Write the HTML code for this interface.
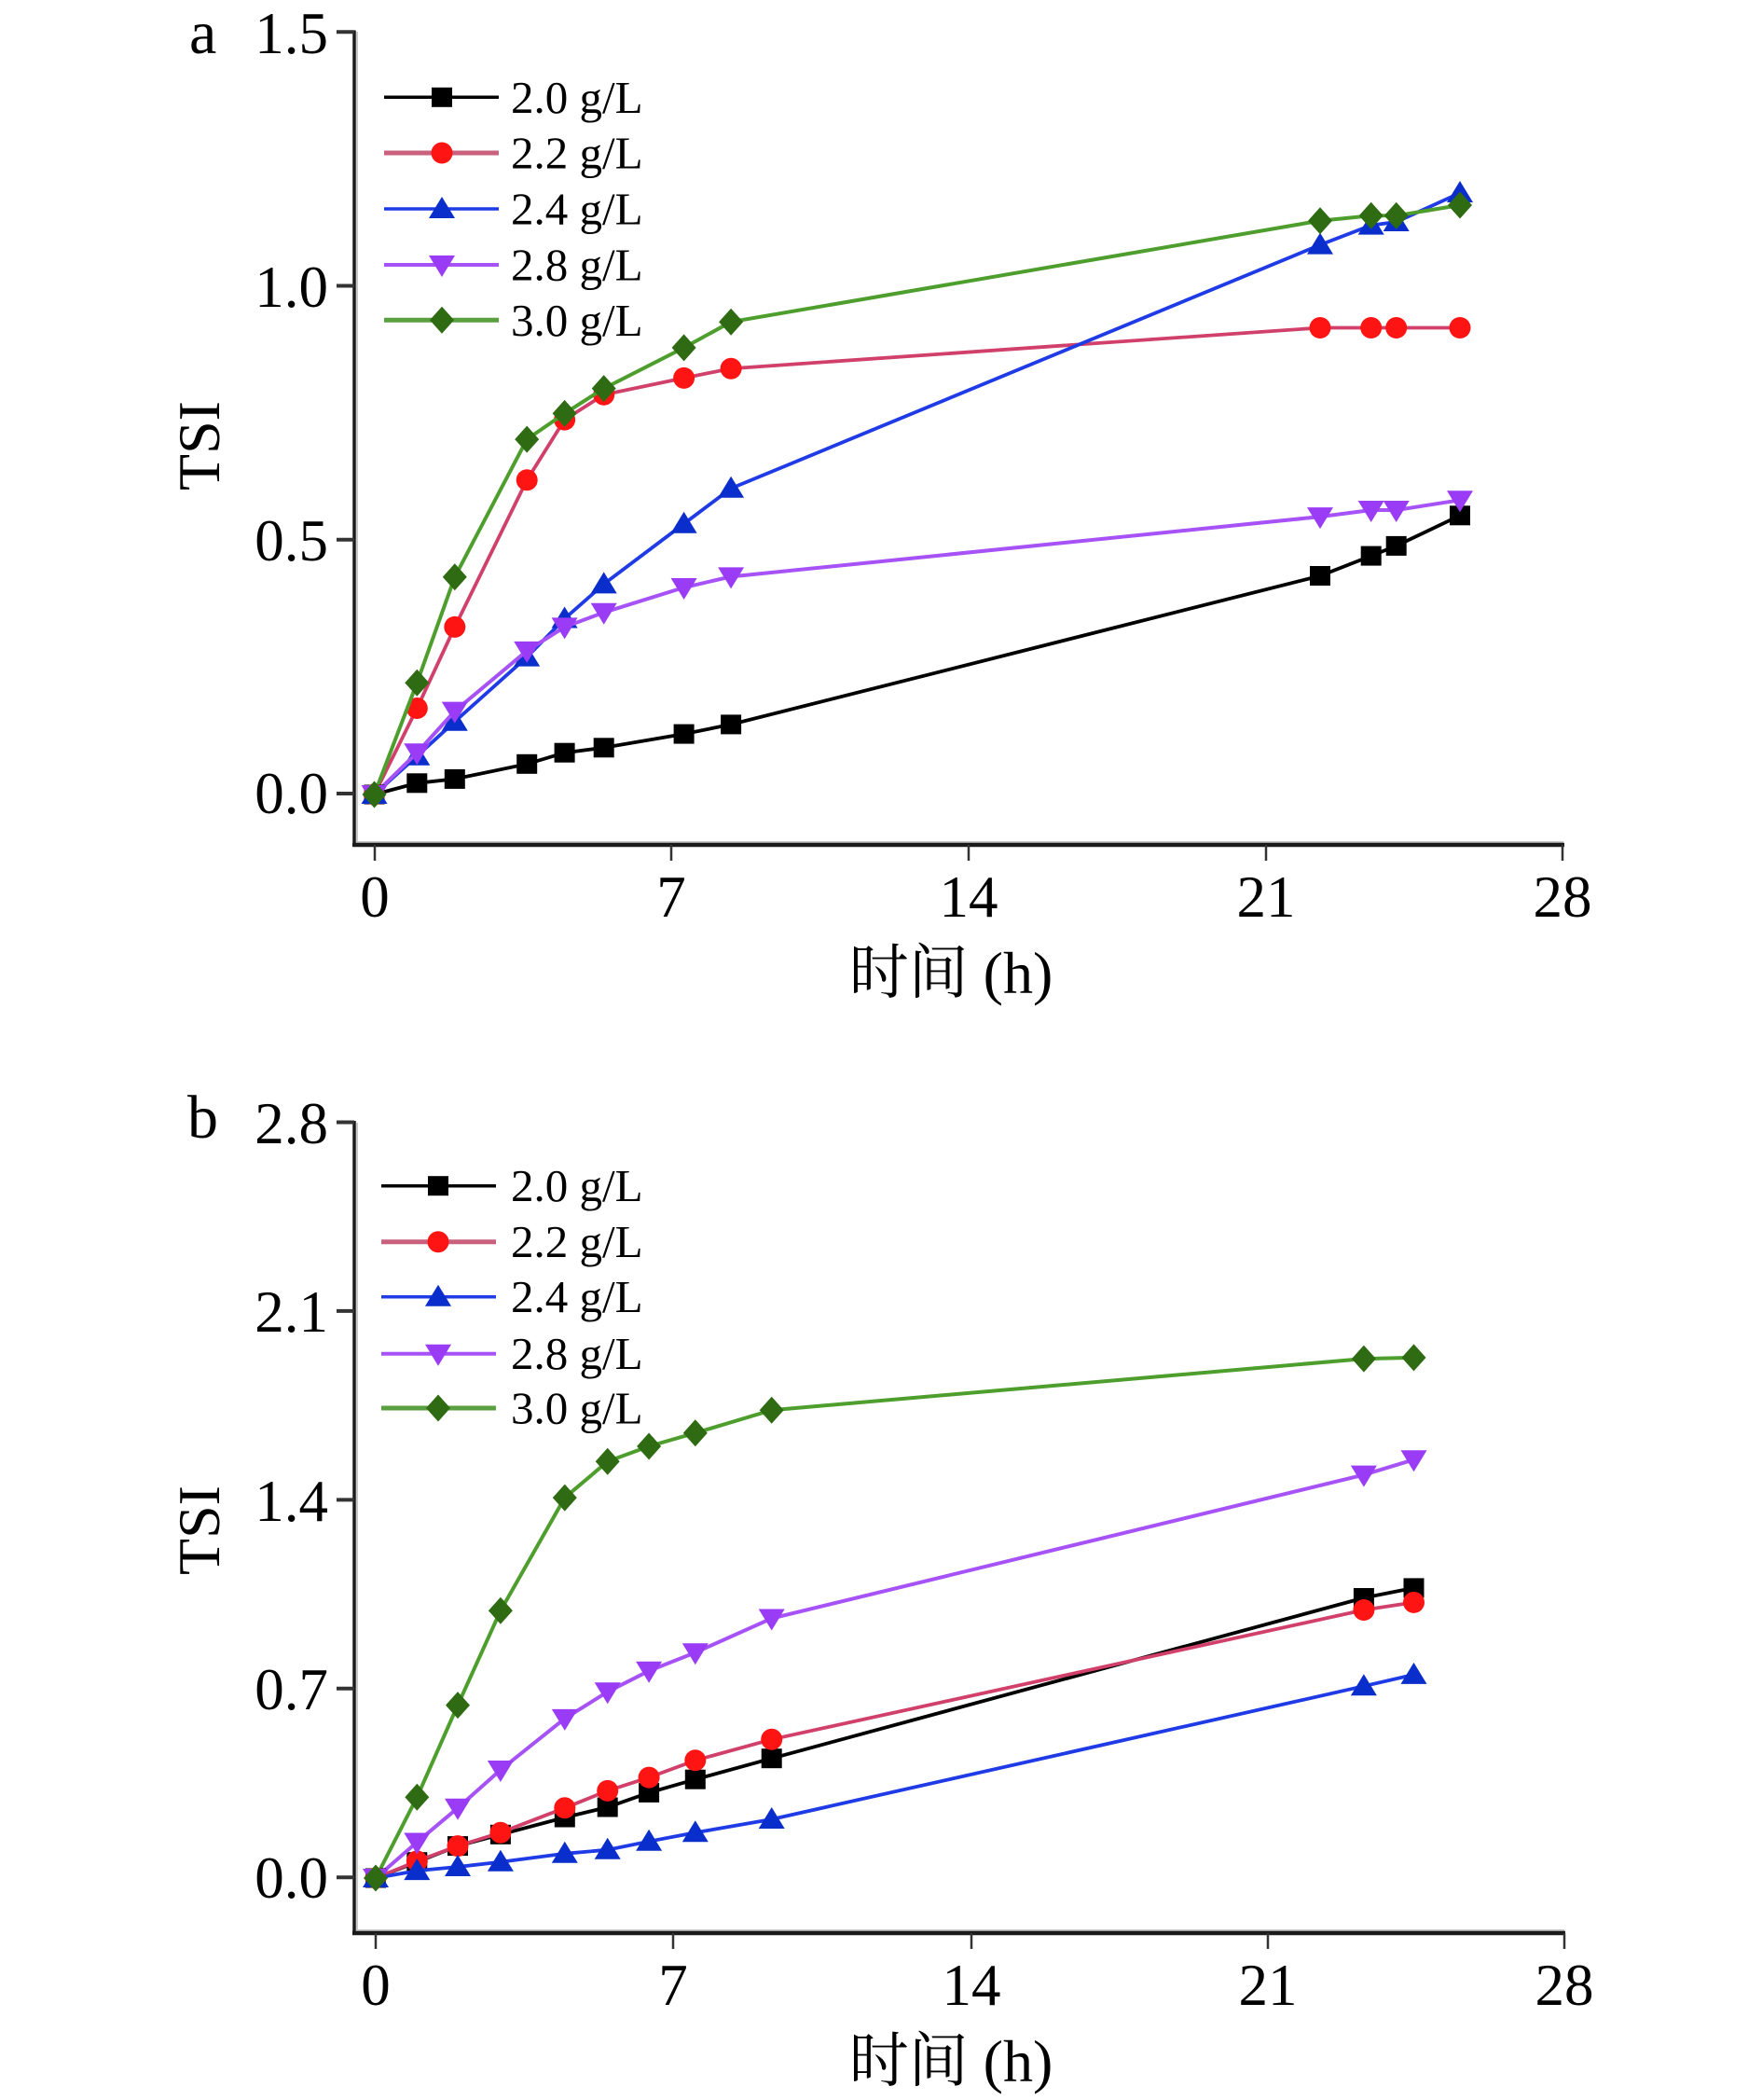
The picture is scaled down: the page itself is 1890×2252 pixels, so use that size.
<!DOCTYPE html>
<html><head><meta charset="utf-8"><style>
html,body{margin:0;padding:0;background:#fff;}
svg{display:block;}
text{font-family:"Liberation Serif","Noto Serif CJK SC",serif;fill:#000;}
</style></head><body>
<svg width="1890" height="2252" viewBox="0 0 1890 2252" xmlns="http://www.w3.org/2000/svg">
<defs>
<rect id="sq" x="-11" y="-10.5" width="22" height="21" fill="#000"/>
<circle id="ci" r="11.5" fill="#ff1414"/>
<polygon id="tu" points="0,-13 14,10 -14,10" fill="#0a2ecc"/>
<polygon id="td" points="0,13 14,-10 -14,-10" fill="#9a3cf5"/>
<polygon id="di" points="0,-14.5 13,0 0,14.5 -13,0" fill="#2e6b12"/>
</defs>
<rect width="1890" height="2252" fill="#fff"/>

<!-- ================= CHART A ================= -->
<g>
<line x1="383" y1="34" x2="383" y2="904" stroke="#c8c8c8" stroke-width="2"/>
<line x1="382" y1="903" x2="1677" y2="903" stroke="#c8c8c8" stroke-width="2"/>
<line x1="380" y1="32.5" x2="380" y2="908" stroke="#1a1a1a" stroke-width="3.5"/>
<line x1="378" y1="906" x2="1678" y2="906" stroke="#1a1a1a" stroke-width="4.5"/>
<g stroke="#333" stroke-width="4">
<line x1="361" y1="34.3" x2="380" y2="34.3"/>
<line x1="361" y1="306.5" x2="380" y2="306.5"/>
<line x1="361" y1="578.8" x2="380" y2="578.8"/>
<line x1="361" y1="851" x2="380" y2="851"/>
</g>
<g stroke="#333" stroke-width="2.5">
<line x1="402" y1="906" x2="402" y2="923"/>
<line x1="720" y1="906" x2="720" y2="923"/>
<line x1="1039" y1="906" x2="1039" y2="923"/>
<line x1="1358" y1="906" x2="1358" y2="923"/>
<line x1="1676" y1="906" x2="1676" y2="923"/>
</g>
<g font-size="63" text-anchor="end">
<text x="352" y="57">1.5</text>
<text x="352" y="329">1.0</text>
<text x="352" y="601">0.5</text>
<text x="352" y="872">0.0</text>
</g>
<g font-size="63" text-anchor="middle">
<text x="402" y="983">0</text>
<text x="720" y="983">7</text>
<text x="1039" y="983">14</text>
<text x="1358" y="983">21</text>
<text x="1676" y="983">28</text>
</g>
<text x="1020" y="1065" font-size="64" text-anchor="middle">时间 (h)</text>
<text transform="translate(235,478) rotate(-90)" font-size="64" text-anchor="middle">TSI</text>
<text x="203" y="57" font-size="66">a</text>

<g font-size="49">
<line x1="412" y1="104.3" x2="535" y2="104.3" stroke="#000" stroke-width="3.5"/>
<use href="#sq" x="474" y="104.3"/>
<text x="548" y="121">2.0 g/L</text>
<line x1="412" y1="164" x2="535" y2="164" stroke="#c8607e" stroke-width="5"/>
<use href="#ci" x="474" y="164"/>
<text x="548" y="180.5">2.2 g/L</text>
<line x1="412" y1="224" x2="535" y2="224" stroke="#1f3be6" stroke-width="3.5"/>
<use href="#tu" x="474" y="224"/>
<text x="548" y="240.5">2.4 g/L</text>
<line x1="412" y1="284" x2="535" y2="284" stroke="#a652f7" stroke-width="4"/>
<use href="#td" x="474" y="284"/>
<text x="548" y="300.5">2.8 g/L</text>
<line x1="412" y1="343.3" x2="535" y2="343.3" stroke="#5aa040" stroke-width="5"/>
<use href="#di" x="474" y="343.3"/>
<text x="548" y="360">3.0 g/L</text>
</g>

<polyline fill="none" stroke="#000" stroke-width="3.8" points="401.5,852 447.3,839.8 487.8,835.4 565.2,819.3 605.6,807.2 647.7,801.8 733.6,787.1 784.1,776.9 1416,617.5 1470.7,596.1 1497.7,585.4 1566,552.8"/>
<g>
<use href="#sq" x="447.3" y="839.8"/><use href="#sq" x="487.8" y="835.4"/><use href="#sq" x="565.2" y="819.3"/><use href="#sq" x="605.6" y="807.2"/><use href="#sq" x="647.7" y="801.8"/><use href="#sq" x="733.6" y="787.1"/><use href="#sq" x="784.1" y="776.9"/><use href="#sq" x="1416" y="617.5"/><use href="#sq" x="1470.7" y="596.1"/><use href="#sq" x="1497.7" y="585.4"/><use href="#sq" x="1566" y="552.8"/>
</g>
<polyline fill="none" stroke="#d0406a" stroke-width="3.8" points="401.5,852 447.3,759.5 487.8,672.4 565.2,514.8 605.6,450.1 647.7,423.3 733.6,405.4 784.1,395.2 1416,351.5 1470.7,351.5 1497.7,351.5 1566,351.5"/>
<g>
<use href="#ci" x="447.3" y="759.5"/><use href="#ci" x="487.8" y="672.4"/><use href="#ci" x="565.2" y="514.8"/><use href="#ci" x="605.6" y="450.1"/><use href="#ci" x="647.7" y="423.3"/><use href="#ci" x="733.6" y="405.4"/><use href="#ci" x="784.1" y="395.2"/><use href="#ci" x="1416" y="351.5"/><use href="#ci" x="1470.7" y="351.5"/><use href="#ci" x="1497.7" y="351.5"/><use href="#ci" x="1566" y="351.5"/>
</g>
<polyline fill="none" stroke="#1f3be6" stroke-width="3.8" points="401.5,852 447.3,810.8 487.8,773.8 565.2,704.6 605.6,663.5 647.7,626.4 733.6,561.7 784.1,523.8 1416,262.6 1470.7,241.6 1497.7,238 1566,207"/>
<g>
<use href="#tu" x="447.3" y="810.8"/><use href="#tu" x="487.8" y="773.8"/><use href="#tu" x="565.2" y="704.6"/><use href="#tu" x="605.6" y="663.5"/><use href="#tu" x="647.7" y="626.4"/><use href="#tu" x="733.6" y="561.7"/><use href="#tu" x="784.1" y="523.8"/><use href="#tu" x="1416" y="262.6"/><use href="#tu" x="1470.7" y="241.6"/><use href="#tu" x="1497.7" y="238"/><use href="#tu" x="1566" y="207"/>
</g>
<polyline fill="none" stroke="#a652f7" stroke-width="4" points="401.5,852 447.3,807.2 487.8,762.6 565.2,697.9 605.6,672.4 647.7,656.8 733.6,630 784.1,618.4 1416,554.1 1470.7,547 1497.7,547 1566,536.3"/>
<g>
<use href="#td" x="447.3" y="807.2"/><use href="#td" x="487.8" y="762.6"/><use href="#td" x="565.2" y="697.9"/><use href="#td" x="605.6" y="672.4"/><use href="#td" x="647.7" y="656.8"/><use href="#td" x="733.6" y="630"/><use href="#td" x="784.1" y="618.4"/><use href="#td" x="1416" y="554.1"/><use href="#td" x="1470.7" y="547"/><use href="#td" x="1497.7" y="547"/><use href="#td" x="1566" y="536.3"/>
</g>
<polyline fill="none" stroke="#4e9e2e" stroke-width="4" points="401.5,852 447.3,732.2 487.8,618.8 565.2,471.1 605.6,443.4 647.7,416.6 733.6,372.9 784.1,345.2 1416,236.7 1470.7,231.3 1497.7,231.3 1566,220"/>
<g>
<use href="#sq" x="401.5" y="852"/><use href="#ci" x="401.5" y="852"/><use href="#tu" x="401.5" y="852"/><use href="#td" x="401.5" y="852"/>
<use href="#di" x="401.5" y="852"/><use href="#di" x="447.3" y="732.2"/><use href="#di" x="487.8" y="618.8"/><use href="#di" x="565.2" y="471.1"/><use href="#di" x="605.6" y="443.4"/><use href="#di" x="647.7" y="416.6"/><use href="#di" x="733.6" y="372.9"/><use href="#di" x="784.1" y="345.2"/><use href="#di" x="1416" y="236.7"/><use href="#di" x="1470.7" y="231.3"/><use href="#di" x="1497.7" y="231.3"/><use href="#di" x="1566" y="220"/>
</g>
</g>

<!-- ================= CHART B ================= -->
<g>
<line x1="383" y1="1204" x2="383" y2="2071" stroke="#c8c8c8" stroke-width="2"/>
<line x1="382" y1="2070" x2="1678" y2="2070" stroke="#c8c8c8" stroke-width="2"/>
<line x1="380" y1="1202" x2="380" y2="2075" stroke="#1a1a1a" stroke-width="3.5"/>
<line x1="378" y1="2073" x2="1679" y2="2073" stroke="#1a1a1a" stroke-width="4.5"/>
<g stroke="#333" stroke-width="4">
<line x1="361" y1="1203.5" x2="380" y2="1203.5"/>
<line x1="361" y1="1405.9" x2="380" y2="1405.9"/>
<line x1="361" y1="1608.4" x2="380" y2="1608.4"/>
<line x1="361" y1="1810.8" x2="380" y2="1810.8"/>
<line x1="361" y1="2013.3" x2="380" y2="2013.3"/>
</g>
<g stroke="#333" stroke-width="2.5">
<line x1="403" y1="2073" x2="403" y2="2090"/>
<line x1="722" y1="2073" x2="722" y2="2090"/>
<line x1="1042" y1="2073" x2="1042" y2="2090"/>
<line x1="1360" y1="2073" x2="1360" y2="2090"/>
<line x1="1678" y1="2073" x2="1678" y2="2090"/>
</g>
<g font-size="63" text-anchor="end">
<text x="352" y="1226">2.8</text>
<text x="352" y="1428">2.1</text>
<text x="352" y="1631">1.4</text>
<text x="352" y="1833">0.7</text>
<text x="352" y="2035">0.0</text>
</g>
<g font-size="63" text-anchor="middle">
<text x="403" y="2150">0</text>
<text x="722" y="2150">7</text>
<text x="1042" y="2150">14</text>
<text x="1360" y="2150">21</text>
<text x="1678" y="2150">28</text>
</g>
<text x="1020" y="2232" font-size="64" text-anchor="middle">时间 (h)</text>
<text transform="translate(235,1641) rotate(-90)" font-size="64" text-anchor="middle">TSI</text>
<text x="201" y="1220" font-size="66">b</text>

<g font-size="49">
<line x1="409" y1="1271.7" x2="532" y2="1271.7" stroke="#000" stroke-width="3.5"/>
<use href="#sq" x="470" y="1271.7"/>
<text x="548" y="1288">2.0 g/L</text>
<line x1="409" y1="1331.7" x2="532" y2="1331.7" stroke="#c8607e" stroke-width="5"/>
<use href="#ci" x="470" y="1331.7"/>
<text x="548" y="1348">2.2 g/L</text>
<line x1="409" y1="1390.7" x2="532" y2="1390.7" stroke="#1f3be6" stroke-width="3.5"/>
<use href="#tu" x="470" y="1390.7"/>
<text x="548" y="1407">2.4 g/L</text>
<line x1="409" y1="1451.7" x2="532" y2="1451.7" stroke="#a652f7" stroke-width="4"/>
<use href="#td" x="470" y="1451.7"/>
<text x="548" y="1468">2.8 g/L</text>
<line x1="409" y1="1510" x2="532" y2="1510" stroke="#5aa040" stroke-width="5"/>
<use href="#di" x="470" y="1510"/>
<text x="548" y="1526.5">3.0 g/L</text>
</g>

<polyline fill="none" stroke="#000" stroke-width="3.8" points="403,2014 447.3,1996.7 491,1979.6 536.9,1967.3 605.8,1949 651.7,1938 696.1,1922.4 745.8,1908.2 827.7,1885.7 1462.9,1713.5 1516.5,1702.9"/>
<g>
<use href="#sq" x="447.3" y="1996.7"/><use href="#sq" x="491" y="1979.6"/><use href="#sq" x="536.9" y="1967.3"/><use href="#sq" x="605.8" y="1949"/><use href="#sq" x="651.7" y="1938"/><use href="#sq" x="696.1" y="1922.4"/><use href="#sq" x="745.8" y="1908.2"/><use href="#sq" x="827.7" y="1885.7"/><use href="#sq" x="1462.9" y="1713.5"/><use href="#sq" x="1516.5" y="1702.9"/>
</g>
<polyline fill="none" stroke="#d0406a" stroke-width="3.8" points="403,2014 447.3,1995.9 491,1979.6 536.9,1965.3 605.8,1938.8 651.7,1920.4 696.1,1906.1 745.8,1887.8 827.7,1865.3 1462.9,1726.5 1516.5,1718.4"/>
<g>
<use href="#ci" x="447.3" y="1995.9"/><use href="#ci" x="491" y="1979.6"/><use href="#ci" x="536.9" y="1965.3"/><use href="#ci" x="605.8" y="1938.8"/><use href="#ci" x="651.7" y="1920.4"/><use href="#ci" x="696.1" y="1906.1"/><use href="#ci" x="745.8" y="1887.8"/><use href="#ci" x="827.7" y="1865.3"/><use href="#ci" x="1462.9" y="1726.5"/><use href="#ci" x="1516.5" y="1718.4"/>
</g>
<polyline fill="none" stroke="#1f3be6" stroke-width="3.8" points="403,2014 447.3,2006.1 491,2002 536.9,1996.7 605.8,1987.8 651.7,1983.7 696.1,1974.7 745.8,1965.3 827.7,1951 1462.9,1808.2 1516.5,1795.9"/>
<g>
<use href="#tu" x="447.3" y="2006.1"/><use href="#tu" x="491" y="2002"/><use href="#tu" x="536.9" y="1996.7"/><use href="#tu" x="605.8" y="1987.8"/><use href="#tu" x="651.7" y="1983.7"/><use href="#tu" x="696.1" y="1974.7"/><use href="#tu" x="745.8" y="1965.3"/><use href="#tu" x="827.7" y="1951"/><use href="#tu" x="1462.9" y="1808.2"/><use href="#tu" x="1516.5" y="1795.9"/>
</g>
<polyline fill="none" stroke="#a652f7" stroke-width="4" points="403,2014 447.3,1975.5 491,1938.8 536.9,1898 605.8,1842.9 651.7,1814.3 696.1,1791.8 745.8,1772.2 827.7,1735.5 1462.9,1581.6 1516.5,1565.3"/>
<g>
<use href="#td" x="447.3" y="1975.5"/><use href="#td" x="491" y="1938.8"/><use href="#td" x="536.9" y="1898"/><use href="#td" x="605.8" y="1842.9"/><use href="#td" x="651.7" y="1814.3"/><use href="#td" x="696.1" y="1791.8"/><use href="#td" x="745.8" y="1772.2"/><use href="#td" x="827.7" y="1735.5"/><use href="#td" x="1462.9" y="1581.6"/><use href="#td" x="1516.5" y="1565.3"/>
</g>
<polyline fill="none" stroke="#4e9e2e" stroke-width="4" points="403,2014 447.3,1927.3 491,1828.6 536.9,1727.3 605.8,1606.1 651.7,1567.3 696.1,1551 745.8,1536.7 827.7,1512.2 1462.9,1457.1 1516.5,1455.9"/>
<g>
<use href="#sq" x="403" y="2014"/><use href="#ci" x="403" y="2014"/><use href="#tu" x="403" y="2014"/><use href="#td" x="403" y="2014"/>
<use href="#di" x="403" y="2014"/><use href="#di" x="447.3" y="1927.3"/><use href="#di" x="491" y="1828.6"/><use href="#di" x="536.9" y="1727.3"/><use href="#di" x="605.8" y="1606.1"/><use href="#di" x="651.7" y="1567.3"/><use href="#di" x="696.1" y="1551"/><use href="#di" x="745.8" y="1536.7"/><use href="#di" x="827.7" y="1512.2"/><use href="#di" x="1462.9" y="1457.1"/><use href="#di" x="1516.5" y="1455.9"/>
</g>
</g>
</svg>
</body></html>
